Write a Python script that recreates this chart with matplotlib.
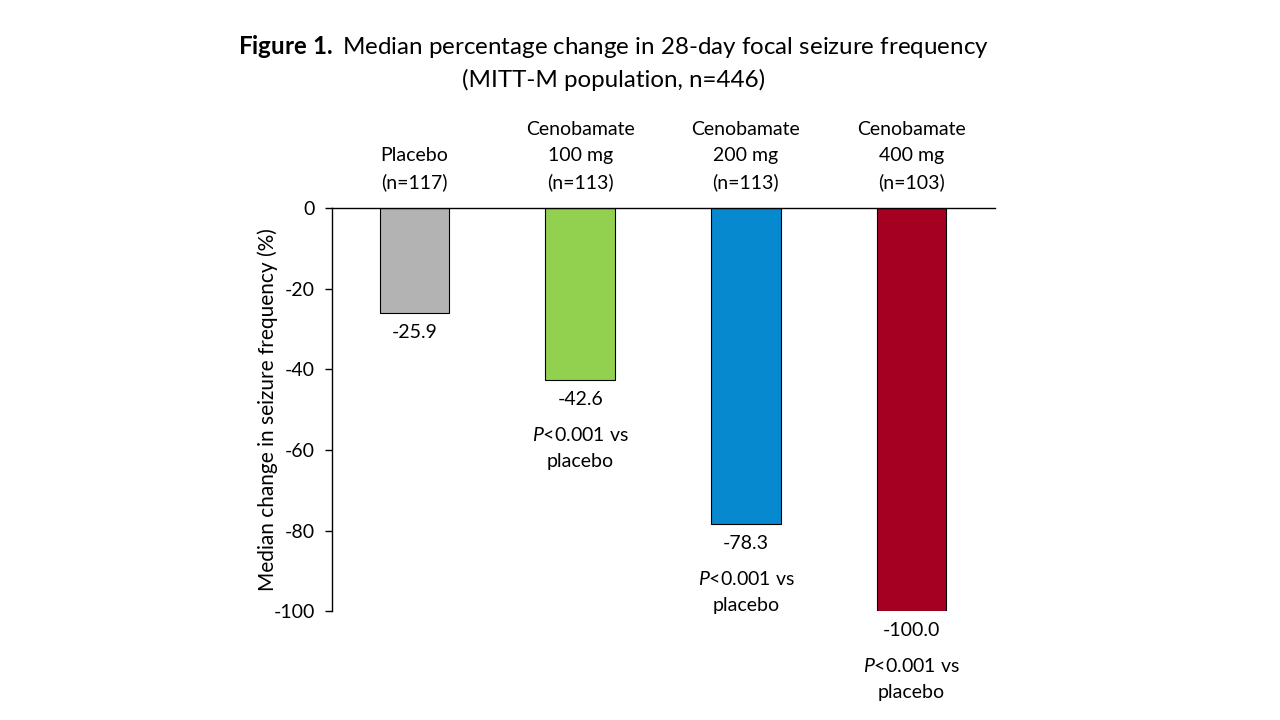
import matplotlib.pyplot as plt

plt.rcParams['font.family'] = ['Lato', 'DejaVu Sans']
plt.rcParams['mathtext.fontset'] = 'custom'
plt.rcParams['mathtext.rm'] = 'Lato'
plt.rcParams['mathtext.it'] = 'Lato:italic'
plt.rcParams['mathtext.bf'] = 'Lato:bold'

groups = ["Placebo\n(n=117)", "Cenobamate\n100 mg\n(n=113)",
          "Cenobamate\n200 mg\n(n=113)", "Cenobamate\n400 mg\n(n=103)"]
values = [-25.9, -42.6, -78.3, -100.0]
pvals = ["", "<0.001 vs", "<0.001 vs", "<0.001 vs"]
colors = ["#B3B3B3", "#92D050", "#0789D0", "#A50021"]
yticks = [0, -20, -40, -60, -80, -100]

fig = plt.figure(figsize=(12.8, 7.2), dpi=100)
ax = fig.add_axes([0.259, 0.151, 0.518, 0.560])

x = list(range(len(values)))
ax.bar(x, values, width=0.42, color=colors, edgecolor="black", linewidth=0.8)
ax.set_xlim(-0.5, 3.5)
ax.set_ylim(-100, 0)
ax.set_yticks(yticks)
ax.set_yticklabels([str(t) for t in yticks], fontsize=14)
ax.set_xticks([])
ax.tick_params(axis="y", direction="out", length=5, width=1, pad=7)
ax.spines["bottom"].set_visible(False)
ax.spines["right"].set_visible(False)
ax.spines["left"].set_linewidth(1)
ax.spines["top"].set_linewidth(1)
ax.set_ylabel("Median change in seizure frequency (%)", fontsize=15, labelpad=-3)

for xi, v, p, g in zip(x, values, pvals, groups):
    ax.annotate(f"{v:.1f}", (xi, v), xytext=(0, -8), textcoords="offset points",
                ha="center", va="top", fontsize=14, annotation_clip=False)
    if p:
        ax.annotate("$\\it{P}$" + p + "\nplacebo", (xi, v), xytext=(0, -33),
                    textcoords="offset points", ha="center", va="top",
                    fontsize=14, linespacing=1.65, annotation_clip=False)
    ax.annotate(g, (xi, 0), xytext=(0, 12), textcoords="offset points",
                ha="center", va="bottom", fontsize=14, linespacing=1.65,
                annotation_clip=False)

fig.text(0.479, 0.936, "$\\bf{Figure\\ 1.}$ Median percentage change in 28-day focal seizure frequency",
         ha="center", va="center", fontsize=17.4)
fig.text(0.479, 0.889, "(MITT-M population, n=446)", ha="center", va="center", fontsize=17.4)

fig.savefig("out.png", dpi=100)
